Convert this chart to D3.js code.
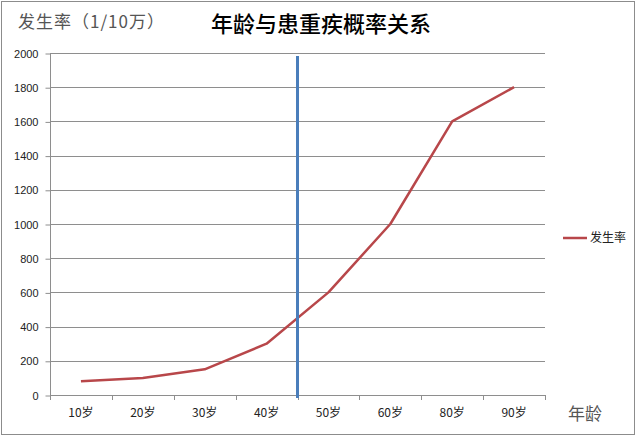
<!DOCTYPE html>
<html>
<head>
<meta charset="utf-8">
<script src="https://cdn.jsdelivr.net/npm/d3@7"></script>
<style>
  body { margin: 0; background: #fff; }
  svg { display: block; }
</style>
</head>
<body>
<div class="display"></div>
<script>
const width = 640;
const height = 437;

const ages = ['10岁', '20岁', '30岁', '40岁', '50岁', '60岁', '80岁', '90岁'];
const rates = [80, 100, 150, 300, 600, 1000, 1600, 1800];
const yTicks = [0, 200, 400, 600, 800, 1000, 1200, 1400, 1600, 1800, 2000];
const markerAfter = '40岁';

const plotLeft = 50, plotRight = 545, plotTop = 53, plotBottom = 395;
const cjk = '"Noto Sans CJK SC", sans-serif';
const latin = '"Liberation Sans", Arial, sans-serif';

const svg = d3.select('.display')
    .append('svg')
    .attr('width', width)
    .attr('height', height);

// outer frame
svg.append('rect')
    .attr('x', 1.5).attr('y', 1.5)
    .attr('width', 633).attr('height', 433)
    .attr('fill', 'none')
    .attr('stroke', '#8c8c8c')
    .attr('stroke-width', 1);

const xScale = d3.scaleBand()
    .domain(ages)
    .range([plotLeft, plotRight]);

const yScale = d3.scaleLinear()
    .domain([0, 2000])
    .range([plotBottom, plotTop]);

// gridlines
svg.append('g')
    .selectAll('line')
    .data(yTicks.filter(d => d > 0))
    .enter()
    .append('line')
    .attr('x1', plotLeft).attr('x2', plotRight)
    .attr('y1', d => Math.round(yScale(d)) + 0.5)
    .attr('y2', d => Math.round(yScale(d)) + 0.5)
    .attr('stroke', '#8e8e8e')
    .attr('stroke-width', 1);

const yAxis = d3.axisLeft(yScale).tickValues(yTicks).tickFormat(d => d).tickSize(5).tickPadding(7);
const gy = svg.append('g')
    .attr('transform', `translate(${plotLeft + 0.5}, 0.5)`)
    .call(yAxis);
gy.select('.domain').attr('stroke', '#8e8e8e').attr('d', `M0,${plotTop}V${plotBottom}`);
gy.selectAll('.tick line').attr('stroke', '#8e8e8e');
gy.selectAll('.tick text')
    .attr('fill', '#222')
    .style('font-family', latin)
    .style('font-size', '11px');

const xAxis = d3.axisBottom(xScale).tickSize(0).tickPadding(13);
const gx = svg.append('g')
    .attr('transform', `translate(0, ${plotBottom + 0.5})`)
    .call(xAxis);
gx.select('.domain').attr('stroke', '#8e8e8e').attr('d', `M${plotLeft},0H${plotRight}`);
gx.selectAll('.tick text')
    .attr('fill', '#222')
    .style('font-family', cjk)
    .style('font-size', '12px');

// category boundary tick marks
svg.append('g')
    .selectAll('line')
    .data(ages.concat(['end']))
    .enter()
    .append('line')
    .attr('x1', (d, i) => Math.round(i < ages.length ? xScale(d) : plotRight) + 0.5)
    .attr('x2', (d, i) => Math.round(i < ages.length ? xScale(d) : plotRight) + 0.5)
    .attr('y1', plotBottom).attr('y2', plotBottom + 5)
    .attr('stroke', '#8e8e8e');

// series line
const line = d3.line()
    .x((d, i) => xScale(ages[i]) + xScale.bandwidth() / 2)
    .y(d => yScale(d));

svg.append('path')
    .datum(rates)
    .attr('d', line)
    .attr('fill', 'none')
    .attr('stroke', '#b8474a')
    .attr('stroke-width', 2.5)
    .attr('stroke-linejoin', 'round');

// blue marker line between 40岁 and 50岁
const mx = xScale(markerAfter) + xScale.bandwidth();
svg.append('line')
    .attr('x1', mx).attr('x2', mx)
    .attr('y1', 56).attr('y2', plotBottom + 3)
    .attr('stroke', '#4a7ebb')
    .attr('stroke-width', 3);

// titles
svg.append('text')
    .attr('x', 321).attr('y', 32)
    .attr('text-anchor', 'middle')
    .style('font-family', cjk)
    .style('font-size', '22px')
    .style('font-weight', '500')
    .attr('fill', '#000')
    .text('年龄与患重疾概率关系');

svg.append('text')
    .attr('x', 18).attr('y', 28)
    .style('font-family', cjk)
    .style('font-size', '17px')
    .style('letter-spacing', '1px')
    .attr('fill', '#555')
    .text('发生率（1/10万）');

svg.append('text')
    .attr('x', 568).attr('y', 420)
    .style('font-family', cjk)
    .style('font-size', '17px')
    .attr('fill', '#555')
    .text('年龄');

// legend
svg.append('line')
    .attr('x1', 563).attr('x2', 587)
    .attr('y1', 238).attr('y2', 238)
    .attr('stroke', '#b8474a')
    .attr('stroke-width', 2.5);
svg.append('text')
    .attr('x', 590).attr('y', 242)
    .style('font-family', cjk)
    .style('font-size', '12px')
    .attr('fill', '#222')
    .text('发生率');
</script>
</body>
</html>
